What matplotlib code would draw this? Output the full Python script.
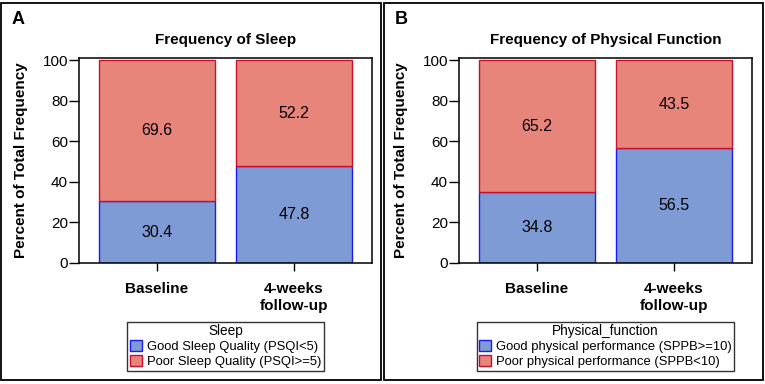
import matplotlib
matplotlib.use("Agg")
import matplotlib.pyplot as plt
from matplotlib.patches import Rectangle

plt.rcParams['font.family'] = ['Liberation Sans', 'DejaVu Sans']

categories = ["Baseline", "4-weeks\nfollow-up"]

sleep_good = [30.4, 47.8]
sleep_poor = [69.6, 52.2]
sleep_labels = ["Good Sleep Quality (PSQI<5)", "Poor Sleep Quality (PSQI>=5)"]

phys_good = [34.8, 56.5]
phys_poor = [65.2, 43.5]
phys_labels = ["Good physical performance (SPPB>=10)", "Poor physical performance (SPPB<10)"]

blue_fill, blue_edge = '#7f9bd6', '#1c1cf0'
red_fill, red_edge = '#e8857b', '#c8102e'

W, H = 765, 384
fig = plt.figure(figsize=(W / 100, H / 100), dpi=100)

def px(x0, y0, x1, y1):
    return [x0 / W, 1 - y1 / H, (x1 - x0) / W, (y1 - y0) / H]

panels = [
    dict(letter="A", title="Frequency of Sleep", good=sleep_good, poor=sleep_poor,
         labels=sleep_labels, legtitle="Sleep", ax=(79, 58, 372, 263), box=(1, 3, 381, 380)),
    dict(letter="B", title="Frequency of Physical Function", good=phys_good, poor=phys_poor,
         labels=phys_labels, legtitle="Physical_function", ax=(459, 58, 752, 263), box=(384, 3, 763, 380)),
]

for p in panels:
    bx0, by0, bx1, by1 = p['box']
    fig.patches.append(Rectangle((bx0 / W, 1 - by1 / H), (bx1 - bx0) / W, (by1 - by0) / H,
                                 transform=fig.transFigure, fill=False, edgecolor='black', lw=1.3))
    ax = fig.add_axes(px(*p['ax']))
    x = list(range(len(categories)))
    ax.bar(x, p['good'], width=0.85, color=blue_fill, edgecolor=blue_edge, lw=1.0,
           label=p['labels'][0])
    ax.bar(x, p['poor'], width=0.85, bottom=p['good'], color=red_fill, edgecolor=red_edge, lw=1.0,
           label=p['labels'][1])
    for i in x:
        ax.text(i, p['good'][i] / 2, f"{p['good'][i]:.1f}", ha='center', va='center', fontsize=11.5)
        ax.text(i, p['good'][i] + p['poor'][i] / 2, f"{p['poor'][i]:.1f}", ha='center', va='center', fontsize=11.5)
    ax.set_xlim(-0.57, 1.57)
    ax.set_ylim(0, 101)
    ax.set_yticks([0, 20, 40, 60, 80, 100])
    ax.set_xticks(x)
    ax.set_xticklabels(categories, fontsize=11, fontweight='bold', linespacing=1.2)
    ax.tick_params(axis='y', labelsize=11, length=7, width=1, pad=1)
    ax.tick_params(axis='x', length=6, width=1, pad=8)
    for s in ax.spines.values():
        s.set_linewidth(1.1)
    ax.set_ylabel("Percent of Total Frequency", fontsize=11, fontweight='bold')
    ax.yaxis.set_label_coords(-0.174, 0.5)
    ax.set_title(p['title'], fontsize=11, fontweight='bold', pad=10)
    leg = ax.legend(loc='center', bbox_to_anchor=(0.5, -0.405), title=p['legtitle'],
                    fontsize=9.4, title_fontsize=9.8, frameon=True, fancybox=False,
                    edgecolor='black', borderpad=0.2, handlelength=0.9, handleheight=0.9,
                    handletextpad=0.4, labelspacing=0.15, borderaxespad=0)
    leg.get_frame().set_linewidth(1.0)
    fig.text((bx0 + 11) / W, 1 - 19 / H, p['letter'], fontsize=13, fontweight='bold',
             ha='left', va='center')

fig.savefig("out.png", dpi=100)
